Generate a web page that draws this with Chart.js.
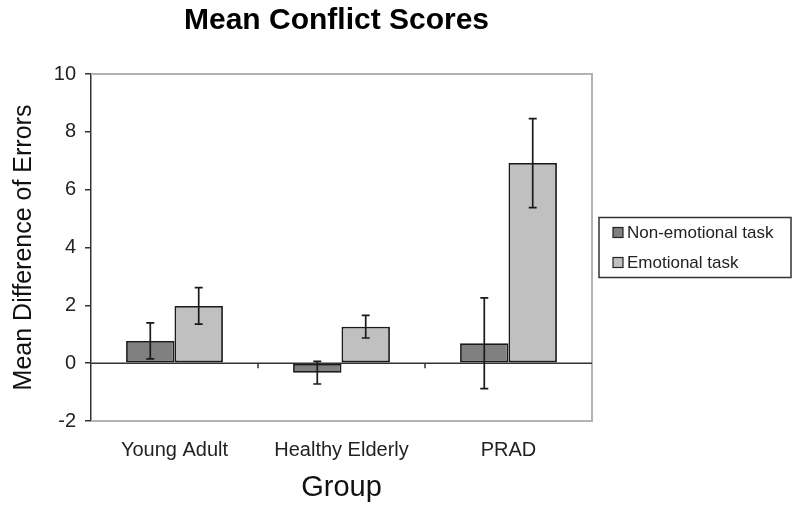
<!DOCTYPE html>
<html>
<head>
<meta charset="utf-8">
<script src="https://cdn.jsdelivr.net/npm/chart.js@4"></script>
<style>
html,body{margin:0;padding:0;background:#fff;}
#wrap{width:800px;height:513px;}
</style>
</head>
<body>
<div id="wrap"><canvas id="c" width="800" height="513"></canvas></div>
<script>
const categories = ["Young Adult", "Healthy Elderly", "PRAD"];
const seriesLabels = ["Non-emotional task", "Emotional task"];
const nonEmotional = [0.77, -0.33, 0.69];
const nonEmotionalErr = [0.62, 0.39, 1.57];
const emotional = [1.98, 1.26, 6.92];
const emotionalErr = [0.63, 0.39, 1.54];
const yTicks = [-2, 0, 2, 4, 6, 8, 10];

const FONT = "'Liberation Sans', Arial, sans-serif";
const colors = ["#808080", "#c0c0c0"];
const errs = [nonEmotionalErr, emotionalErr];

const decor = {
  id: 'decor',
  beforeDatasetsDraw(chart) {
    const {ctx, chartArea: a} = chart;
    ctx.save();
    ctx.strokeStyle = '#b3b3b3';
    ctx.lineWidth = 2;
    ctx.beginPath();
    ctx.moveTo(a.left, a.top);
    ctx.lineTo(a.right, a.top);
    ctx.lineTo(a.right, a.bottom);
    ctx.lineTo(a.left, a.bottom);
    ctx.stroke();
    ctx.restore();
  },
  afterDatasetsDraw(chart) {
    const {ctx, chartArea: a, scales: {x, y}} = chart;
    ctx.save();
    const y0 = y.getPixelForValue(0);
    ctx.strokeStyle = '#333';
    ctx.lineWidth = 1.5;
    ctx.beginPath();
    ctx.moveTo(a.left, y0);
    ctx.lineTo(a.right, y0);
    const step = (x.getPixelForValue(1) - x.getPixelForValue(0));
    for (let i = 0; i < categories.length - 1; i++) {
      const bx = x.getPixelForValue(i) + step / 2;
      ctx.moveTo(bx, y0);
      ctx.lineTo(bx, y0 + 5);
    }
    ctx.stroke();
    ctx.strokeStyle = '#1a1a1a';
    ctx.lineWidth = 1.7;
    chart.data.datasets.forEach((ds, di) => {
      const meta = chart.getDatasetMeta(di);
      meta.data.forEach((el, i) => {
        const v = ds.data[i], e = errs[di][i];
        const yt = y.getPixelForValue(v + e), yb = y.getPixelForValue(v - e);
        const cx = el.x;
        ctx.beginPath();
        ctx.moveTo(cx, yt); ctx.lineTo(cx, yb);
        ctx.moveTo(cx - 4, yt); ctx.lineTo(cx + 4, yt);
        ctx.moveTo(cx - 4, yb); ctx.lineTo(cx + 4, yb);
        ctx.stroke();
      });
    });
    ctx.restore();
  },
  afterDraw(chart) {
    const {ctx, chartArea: a} = chart;
    ctx.save();
    ctx.fillStyle = '#000';
    ctx.font = "bold 30px " + FONT;
    ctx.textAlign = 'center';
    ctx.textBaseline = 'middle';
    ctx.fillText("Mean Conflict Scores", (a.left + a.right) / 2 - 5, 21);
    const lx = a.right + 7, lw = 192, lh = 60;
    const ly = (a.top + a.bottom) / 2 - lh / 2;
    ctx.strokeStyle = '#333';
    ctx.lineWidth = 1.5;
    ctx.strokeRect(lx, ly, lw, lh);
    ctx.font = "17px " + FONT;
    ctx.textAlign = 'left';
    seriesLabels.forEach((lab, i) => {
      const cy = ly + 15 + i * 30;
      ctx.fillStyle = colors[i];
      ctx.fillRect(lx + 14, cy - 5, 10, 10);
      ctx.strokeStyle = '#222';
      ctx.lineWidth = 1.2;
      ctx.strokeRect(lx + 14, cy - 5, 10, 10);
      ctx.fillStyle = '#222';
      ctx.fillText(lab, lx + 28, cy + 1);
    });
    ctx.restore();
  }
};

new Chart(document.getElementById('c'), {
  type: 'bar',
  data: {
    labels: categories,
    datasets: [
      {label: seriesLabels[0], data: nonEmotional, backgroundColor: colors[0], borderColor: '#1a1a1a', borderWidth: 1.8, borderSkipped: false},
      {label: seriesLabels[1], data: emotional, backgroundColor: colors[1], borderColor: '#1a1a1a', borderWidth: 1.8, borderSkipped: false}
    ]
  },
  options: {
    responsive: false,
    animation: false,
    devicePixelRatio: 1,
    layout: {padding: {top: 74, right: 208, left: 0, bottom: 0}},
    plugins: {legend: {display: false}, title: {display: false}, tooltip: {enabled: false}},
    datasets: {bar: {categoryPercentage: 0.58, barPercentage: 1.0}},
    scales: {
      x: {
        grid: {display: false, drawTicks: false},
        border: {display: false},
        ticks: {color: '#222', font: {family: FONT, size: 20}, padding: 17},
        title: {display: true, text: 'Group', color: '#111', font: {family: FONT, size: 29}, padding: {top: 0, bottom: 8}},
        afterFit(s) { s.height = 92; }
      },
      y: {
        min: -2, max: 10,
        afterBuildTicks(s) { s.ticks = yTicks.map(v => ({value: v})); },
        grid: {drawOnChartArea: false, drawTicks: true, tickLength: 6, color: '#333', lineWidth: 1.5},
        border: {display: true, color: '#333', width: 1.5},
        ticks: {color: '#222', font: {family: FONT, size: 20}, padding: 9},
        title: {display: true, text: 'Mean Difference of Errors', color: '#111', font: {family: FONT, size: 25}, padding: {top: 9, bottom: 0}},
        afterFit(s) { s.width = 91; }
      }
    }
  },
  plugins: [decor]
});
</script>
</body>
</html>
